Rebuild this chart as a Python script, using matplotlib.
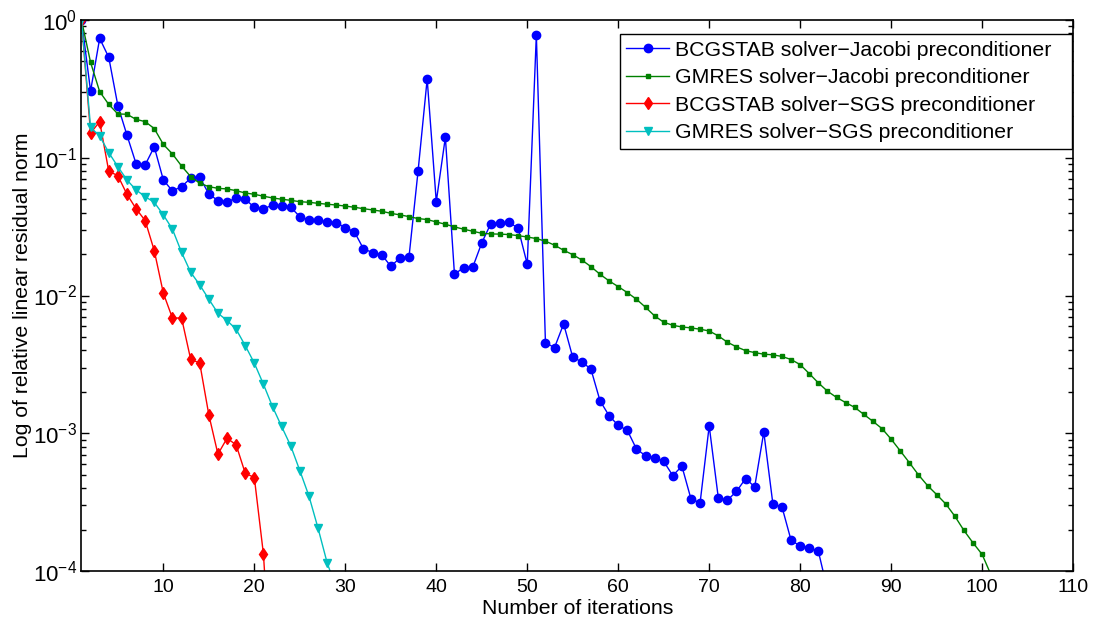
import numpy as np
import matplotlib
matplotlib.use("Agg")
import matplotlib.pyplot as plt
from matplotlib.ticker import LogLocator, NullFormatter

plt.rcParams['font.family'] = ['Liberation Sans', 'DejaVu Sans']
plt.rcParams['mathtext.default'] = 'regular'
plt.rcParams['font.size'] = 15.3

# residual history per solver / preconditioner pair
bcg_jacobi = [1.0, 0.305, 0.736, 0.536, 0.239, 0.146, 0.0906, 0.0887, 0.120, 0.069,
              0.0574, 0.0617, 0.071, 0.0722, 0.0546, 0.0489, 0.048, 0.0508, 0.050, 0.0437,
              0.0425, 0.0454, 0.0447, 0.0437, 0.0374, 0.0354, 0.0351, 0.0344, 0.0338, 0.0311,
              0.0290, 0.0218, 0.0205, 0.0198, 0.0163, 0.0187, 0.0190, 0.0802, 0.373, 0.048,
              0.141, 0.01426, 0.01595, 0.0160, 0.0241, 0.0333, 0.0335, 0.0340, 0.0308, 0.01687,
              0.782, 0.00453, 0.00419, 0.00622, 0.00356, 0.00330, 0.00292, 0.00172, 0.00134, 0.00114,
              0.00105, 0.00077, 0.000686, 0.000664, 0.000624, 0.000493, 0.000577, 0.000333, 0.000313, 0.00113,
              0.00034, 0.000327, 0.000378, 0.000469, 0.000408, 0.00102, 0.000307, 0.000292, 0.000167, 0.000152,
              0.000148, 0.000139, 0.000073]

gmres_jacobi = [1.0, 0.493, 0.302, 0.244, 0.208, 0.207, 0.190, 0.183, 0.163, 0.125,
                0.1066, 0.0872, 0.0730, 0.0653, 0.0617, 0.0600, 0.0594, 0.0577, 0.0555, 0.0543,
                0.0526, 0.0511, 0.0500, 0.0491, 0.0480, 0.0475, 0.0467, 0.0460, 0.0454, 0.0446,
                0.0437, 0.0427, 0.0418, 0.0409, 0.0395, 0.0385, 0.0374, 0.0362, 0.0356, 0.0342,
                0.0329, 0.0315, 0.0303, 0.0293, 0.0283, 0.0280, 0.0279, 0.0277, 0.0272, 0.0266,
                0.0259, 0.0248, 0.0232, 0.0213, 0.0198, 0.0181, 0.0162, 0.01426, 0.01276, 0.0116,
                0.0105, 0.0094, 0.00822, 0.00711, 0.0064, 0.00608, 0.00591, 0.00582, 0.00569, 0.00553,
                0.00509, 0.00458, 0.00424, 0.00398, 0.00385, 0.00375, 0.00371, 0.00361, 0.00343, 0.00315,
                0.00271, 0.00232, 0.00202, 0.00182, 0.00167, 0.00154, 0.00137, 0.00122, 0.00108, 0.000906,
                0.000745, 0.000612, 0.000499, 0.000417, 0.000359, 0.000307, 0.000250, 0.000197, 0.000160, 0.000132,
                0.000093]

bcg_sgs = [1.0, 0.151, 0.183, 0.0798, 0.0742, 0.0543, 0.0427, 0.035, 0.0212, 0.0104,
           0.00685, 0.00688, 0.00345, 0.00323, 0.00136, 0.000705, 0.00092, 0.000824, 0.000513, 0.000477,
           0.000133, 0.000012]

gmres_sgs = [1.0, 0.166, 0.144, 0.109, 0.0862, 0.069, 0.0584, 0.0522, 0.0475, 0.0385,
             0.0303, 0.0206, 0.01476, 0.01194, 0.0094, 0.00744, 0.00658, 0.00569, 0.00433, 0.00323,
             0.00227, 0.00156, 0.00112, 0.00081, 0.000536, 0.000351, 0.000205, 0.000115, 0.000075]

labels = ["BCGSTAB solver\u2212Jacobi preconditioner",
          "GMRES solver\u2212Jacobi preconditioner",
          "BCGSTAB solver\u2212SGS preconditioner",
          "GMRES solver\u2212SGS preconditioner"]

fig = plt.figure(figsize=(10.95, 6.22), dpi=100)
ax = fig.add_axes([0.0744, 0.082, 0.9056, 0.8858])

def iters(vals):
    return np.arange(1, len(vals) + 1)

ax.semilogy(iters(bcg_jacobi), bcg_jacobi, '-o', color=(0, 0, 1), lw=1.0, ms=6, label=labels[0])
ax.semilogy(iters(gmres_jacobi), gmres_jacobi, '-s', color=(0, 0.5, 0), lw=1.0, ms=2.8, label=labels[1])
ax.semilogy(iters(bcg_sgs), bcg_sgs, '-d', color=(1, 0, 0), lw=1.0, ms=6, label=labels[2])
ax.semilogy(iters(gmres_sgs), gmres_sgs, '-v', color=(0, 0.75, 0.75), lw=1.0, ms=6, label=labels[3])

ax.set_xlim(1, 110)
ax.set_ylim(1e-4, 1)
ax.set_xticks(range(10, 111, 10))
ax.yaxis.set_major_locator(LogLocator(base=10, numticks=10))
ax.yaxis.set_minor_locator(LogLocator(base=10, subs=np.arange(2, 10), numticks=20))
ax.yaxis.set_minor_formatter(NullFormatter())

ax.tick_params(which='both', direction='in', top=True, right=True, width=1)
ax.tick_params(which='major', length=6, pad=6)
ax.tick_params(axis='x', labelsize=14)
ax.tick_params(axis='y', labelsize=16, pad=3)
ax.tick_params(which='minor', length=3.5)
for sp in ax.spines.values():
    sp.set_linewidth(1.2)

ax.set_xlabel("Number of iterations", labelpad=2)
ax.set_ylabel("Log of relative linear residual norm", labelpad=1)

# legend box stretched to a fixed width, entries stay left-aligned
leg = ax.legend(loc='upper left', bbox_to_anchor=(0.5431, 0.5, 0.4556, 0.474), mode='expand',
                borderaxespad=0, fancybox=False, framealpha=1, edgecolor='black',
                handlelength=2.0, handletextpad=0.3, labelspacing=0.4, borderpad=0.3)
leg.get_frame().set_linewidth(1.0)

fig.savefig("out.png", dpi=100)
